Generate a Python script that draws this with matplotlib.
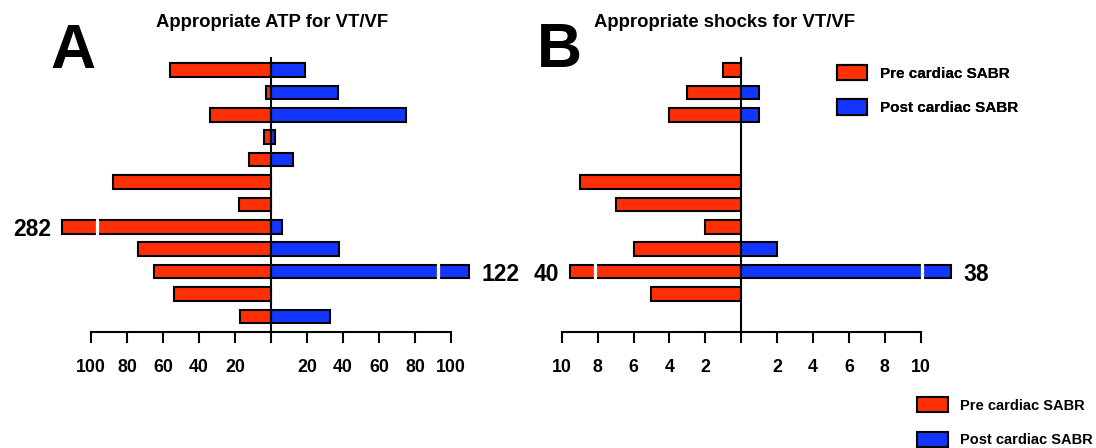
import matplotlib
matplotlib.use("Agg")
import matplotlib.pyplot as plt
import numpy as np

plt.rcParams['font.family'] = ['Liberation Sans', 'DejaVu Sans']

# ---------------- data ----------------
rows = list(range(12))  # one row per patient, top to bottom
atp_pre = [56, 3, 34, 4, 12, 88, 18, 282, 74, 65, 54, 17]
atp_post = [19, 37, 75, 2, 12, 0, 0, 6, 38, 122, 0, 33]
shock_pre = [1, 3, 4, 0, 0, 9, 7, 2, 6, 40, 5, 0]
shock_post = [0, 1, 1, 0, 0, 0, 0, 0, 2, 38, 0, 0]

atp_ticks = [-100, -80, -60, -40, -20, 0, 20, 40, 60, 80, 100]
atp_ticklabels = ['100', '80', '60', '40', '20', '', '20', '40', '60', '80', '100']
shock_ticks = [-10, -8, -6, -4, -2, 0, 2, 4, 6, 8, 10]
shock_ticklabels = ['10', '8', '6', '4', '2', '', '2', '4', '6', '8', '10']

title_a = 'Appropriate ATP for VT/VF'
title_b = 'Appropriate shocks for VT/VF'
label_pre = 'Pre cardiac SABR'
label_post = 'Post cardiac SABR'

# ---------------- style ----------------
W, H, DPI = 1096, 448, 100
RED = '#ff3008'
BLUE = '#1236ff'
EDGE_LW = 1.5
BAR_H = 0.6

# broken-bar drawing (drawn length, position of white gap) for values beyond the axis
BREAK_A = {'pre': (116.3, 96.8), 'post': (110.0, 92.9)}
BREAK_B = {'pre': (9.55, 8.17), 'post': (11.7, 10.1)}


def fx(px):
    return px / W


def fy(py):
    return 1 - py / H


fig = plt.figure(figsize=(W / DPI, H / DPI), dpi=DPI)

top_px, bot_px = 58, 332
y0 = (top_px - 70) / 22.4
y1 = (bot_px - 70) / 22.4

axA = fig.add_axes([fx(55), fy(bot_px), fx(432), (bot_px - top_px) / H])
axB = fig.add_axes([fx(525.8), fy(bot_px), fx(430.8), (bot_px - top_px) / H])


def draw_panel(ax, pre, post, limit, brk, ticks, ticklabels, xl):
    pre = np.array(pre, float)
    post = np.array(post, float)
    r = np.array(rows)
    mp = pre > 0
    mq = post > 0
    pre_draw = np.minimum(pre, brk['pre'][0])
    post_draw = np.minimum(post, brk['post'][0])
    hp = ax.barh(r[mp], -pre_draw[mp], height=BAR_H, color=RED,
                 edgecolor='black', linewidth=EDGE_LW, label=label_pre, zorder=1)
    hq = ax.barh(r[mq], post_draw[mq], height=BAR_H, color=BLUE,
                 edgecolor='black', linewidth=EDGE_LW, label=label_post, zorder=1)
    for i in r:
        if pre[i] > limit:
            g = -brk['pre'][1]
            ax.plot([g, g], [i - 0.45, i + 0.45], color='white', lw=2.3,
                    solid_capstyle='butt', zorder=3)
        if post[i] > limit:
            g = brk['post'][1]
            ax.plot([g, g], [i - 0.45, i + 0.45], color='white', lw=2.3,
                    solid_capstyle='butt', zorder=3)
    ax.set_xlim(-xl, xl)
    ax.set_ylim(y1, y0)
    for s in ['top', 'right']:
        ax.spines[s].set_visible(False)
    ax.spines['left'].set_position(('data', 0))
    ax.spines['left'].set_linewidth(1.5)
    ax.spines['bottom'].set_linewidth(1.5)
    ax.spines['bottom'].set_bounds(ticks[0], ticks[-1])
    ax.tick_params(axis='y', left=False, labelleft=False)
    ax.set_xticks(ticks)
    ax.set_xticklabels(ticklabels)
    ax.tick_params(axis='x', direction='out', length=8, width=1.5, pad=11.5,
                   labelsize=12.8)
    for t in ax.get_xticklabels():
        t.set_fontweight('bold')
    ax.patch.set_alpha(0)
    return hp, hq


draw_panel(axA, atp_pre, atp_post, 100, BREAK_A, atp_ticks, atp_ticklabels, 120)
hp, hq = draw_panel(axB, shock_pre, shock_post, 10, BREAK_B, shock_ticks,
                    shock_ticklabels, 12)

# value labels for broken bars
NUM_FS = 16.5
axA.text(-122.1, 7, str(atp_pre[7]), ha='right', va='center_baseline',
         fontsize=NUM_FS, fontweight='bold', clip_on=False)
axA.text(116.8, 9, str(atp_post[9]), ha='left', va='center_baseline',
         fontsize=NUM_FS, fontweight='bold', clip_on=False)
axB.text(-10.15, 9, str(shock_pre[9]), ha='right', va='center_baseline',
         fontsize=NUM_FS, fontweight='bold', clip_on=False)
axB.text(12.36, 9, str(shock_post[9]), ha='left', va='center_baseline',
         fontsize=NUM_FS, fontweight='bold', clip_on=False)

# panel letters and titles
fig.text(fx(50), fy(68), 'A', fontsize=45, fontweight='bold', va='baseline', ha='left')
fig.text(fx(537), fy(67), 'B', fontsize=45, fontweight='bold', va='baseline', ha='left')
fig.text(fx(272), fy(27), title_a, fontsize=13.3, fontweight='bold', va='baseline', ha='center')
fig.text(fx(725), fy(27), title_b, fontsize=13.3, fontweight='bold', va='baseline', ha='center')

# legends
fs1 = 11
fpx1 = fs1 * DPI / 72
leg1 = fig.legend([hp, hq], [label_pre, label_post], loc='upper left',
                  bbox_to_anchor=(fx(837), fy(65)), frameon=False, borderpad=0,
                  borderaxespad=0, handlelength=30 / fpx1, handleheight=18 / fpx1,
                  handletextpad=13 / fpx1, labelspacing=1.2,
                  prop=dict(weight='bold', size=fs1))
fig.add_artist(leg1)
fs2 = 10.5
fpx2 = fs2 * DPI / 72
leg2 = fig.legend([hp, hq], [label_pre, label_post], loc='upper left',
                  bbox_to_anchor=(fx(917), fy(397)), frameon=False, borderpad=0,
                  borderaxespad=0, handlelength=31 / fpx2, handleheight=18 / fpx2,
                  handletextpad=12 / fpx2, labelspacing=1.33,
                  prop=dict(weight='bold', size=fs2))

fig.savefig('out.png', dpi=DPI)
